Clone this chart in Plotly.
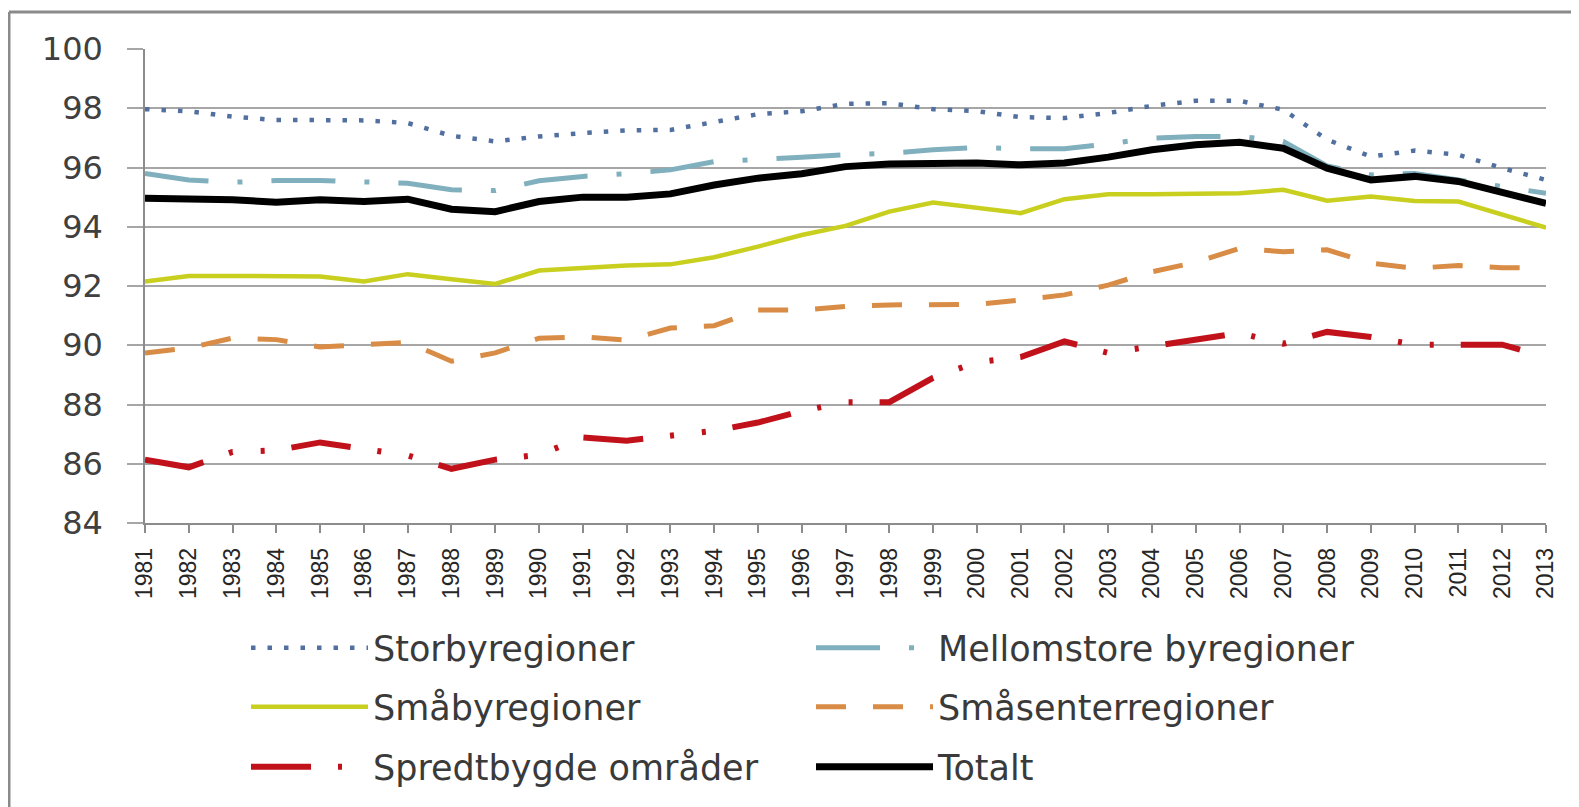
import plotly.graph_objects as go

years = list(range(1981, 2014))
year_labels = [str(y) for y in years]

storby = [97.97, 97.90, 97.72, 97.60, 97.60, 97.59, 97.50, 97.07, 96.88, 97.05,
          97.16, 97.25, 97.27, 97.55, 97.80, 97.90, 98.15, 98.17, 97.97, 97.90,
          97.70, 97.67, 97.84, 98.08, 98.25, 98.25, 97.95, 96.94, 96.37, 96.57,
          96.43, 95.98, 95.58]
mellomstore = [95.80, 95.58, 95.50, 95.56, 95.56, 95.53, 95.47, 95.25, 95.22, 95.55,
               95.70, 95.79, 95.92, 96.20, 96.26, 96.35, 96.43, 96.48, 96.60, 96.68,
               96.63, 96.63, 96.80, 96.99, 97.05, 97.05, 96.88, 96.05, 95.75, 95.80,
               95.58, 95.36, 95.13]
smaby = [92.15, 92.34, 92.34, 92.32, 92.32, 92.15, 92.40, 92.23, 92.07, 92.52,
         92.62, 92.69, 92.73, 92.97, 93.33, 93.72, 94.03, 94.51, 94.82, 94.63,
         94.46, 94.93, 95.10, 95.10, 95.13, 95.13, 95.25, 94.88, 95.02, 94.87,
         94.85, 94.40, 93.97]
smasenter = [89.74, 89.91, 90.24, 90.19, 89.94, 90.02, 90.10, 89.46, 89.74, 90.24,
             90.28, 90.17, 90.58, 90.66, 91.19, 91.19, 91.31, 91.36, 91.36, 91.38,
             91.53, 91.70, 92.03, 92.48, 92.80, 93.27, 93.16, 93.22, 92.77, 92.60,
             92.69, 92.62, 92.60]
spredt = [86.14, 85.88, 86.40, 86.45, 86.72, 86.50, 86.28, 85.83, 86.14, 86.30,
          86.89, 86.78, 86.95, 87.11, 87.39, 87.78, 88.08, 88.08, 88.90, 89.43,
          89.60, 90.13, 89.74, 89.96, 90.19, 90.41, 90.05, 90.45, 90.28, 90.02,
          90.02, 90.02, 89.60]
totalt = [94.96, 94.96, 94.91, 94.83, 94.91, 94.85, 94.93, 94.59, 94.51, 94.85,
          95.00, 95.00, 95.11, 95.41, 95.64, 95.79, 96.03, 96.12, 96.15, 96.15,
          96.09, 96.15, 96.35, 96.60, 96.77, 96.85, 96.65, 95.98, 95.58, 95.70,
          95.53, 95.13, 94.79]

y_ticks = [84, 86, 88, 90, 92, 94, 96, 98, 100]

series = [
    ("Storbyregioner", storby, "#52709F", 4.5, "4.5px,12px", "legend"),
    ("Mellomstore byregioner", mellomstore, "#80B0BE", 5, "64px,29px,5px,29px", "legend"),
    ("Småbyregioner", smaby, "#C8CF1F", 4.5, "solid", "legend2"),
    ("Småsenterregioner", smasenter, "#D88C45", 5, "30px,27px", "legend2"),
    ("Spredtbygde områder", spredt, "#C1121C", 6, "60px,27px,4px,28px,4px,27px", "legend3"),
    ("Totalt", totalt, "#000000", 7, "solid", "legend3"),
]

fig = go.Figure()
for name, vals, color, width, dash, leg in series:
    fig.add_trace(go.Scatter(
        x=years, y=vals, name=name, mode="lines",
        line=dict(color=color, width=width, dash=dash),
        legend=leg, hoverinfo="skip",
    ))

# page body adds an 8px offset, so the figure is 8px smaller and shifted
OFF = 8
W, H = 1579 - OFF, 807 - OFF
L, R, T, B = 137, 33, 41, 283
plot_w = W - L - R
plot_h = H - T - B

def px_x(win_x):
    return (win_x - OFF - L) / plot_w

def px_y(win_y):
    return (H - B - (win_y - OFF)) / plot_h

legend_font = dict(family="DejaVu Sans", size=35, color="#3A3A3A")
leg_common = dict(orientation="h", x=px_x(246), xanchor="left",
                  yanchor="middle", font=legend_font, itemwidth=117,
                  entrywidth=433, entrywidthmode="pixels",
                  bgcolor="rgba(0,0,0,0)", traceorder="normal")

fig.update_layout(
    width=W, height=H,
    margin=dict(l=L, r=R, t=T, b=B),
    paper_bgcolor="white", plot_bgcolor="white",
    showlegend=True,
    legend=dict(y=px_y(648), **leg_common),
    legend2=dict(y=px_y(707), **leg_common),
    legend3=dict(y=px_y(767), **leg_common),
    xaxis=dict(
        range=[1981, 2013], tickmode="array", tickvals=years, ticktext=year_labels,
        tickangle=-90, ticks="outside", ticklen=8, tickwidth=1.5, tickcolor="#8C8C8C",
        showline=True, linecolor="#8C8C8C", linewidth=1.5, showgrid=False,
        zeroline=False, tickfont=dict(family="Liberation Sans", size=23, color="#262626"),
        ticklabelstandoff=6,
    ),
    xaxis2=dict(
        range=[1981, 2013], overlaying="x", anchor="y", side="bottom",
        tickmode="array", tickvals=years, ticks="inside", ticklen=8, tickwidth=1.5,
        tickcolor="#8C8C8C", showticklabels=False, showgrid=False, showline=False,
        zeroline=False,
    ),
    yaxis=dict(
        range=[84, 100], tickmode="array", tickvals=y_ticks,
        ticktext=[str(v) for v in y_ticks],
        ticks="outside", ticklen=16, tickwidth=1.5, tickcolor="#A6A6A6",
        showgrid=True, gridcolor="#A6A6A6", gridwidth=1.5,
        showline=True, linecolor="#8C8C8C", linewidth=1.5, zeroline=False,
        tickfont=dict(family="DejaVu Sans", size=32, color="#404040"),
        ticklabelstandoff=18,
    ),
    shapes=[
        dict(type="line", xref="paper", yref="paper",
             x0=px_x(9), x1=px_x(1579 + OFF),
             y0=px_y(12), y1=px_y(12),
             line=dict(color="#8A8A8A", width=3)),
        dict(type="line", xref="paper", yref="paper",
             x0=px_x(9), x1=px_x(9),
             y0=px_y(12), y1=px_y(807 + OFF),
             line=dict(color="#8A8A8A", width=3)),
    ],
)

fig.write_html("out.html")
